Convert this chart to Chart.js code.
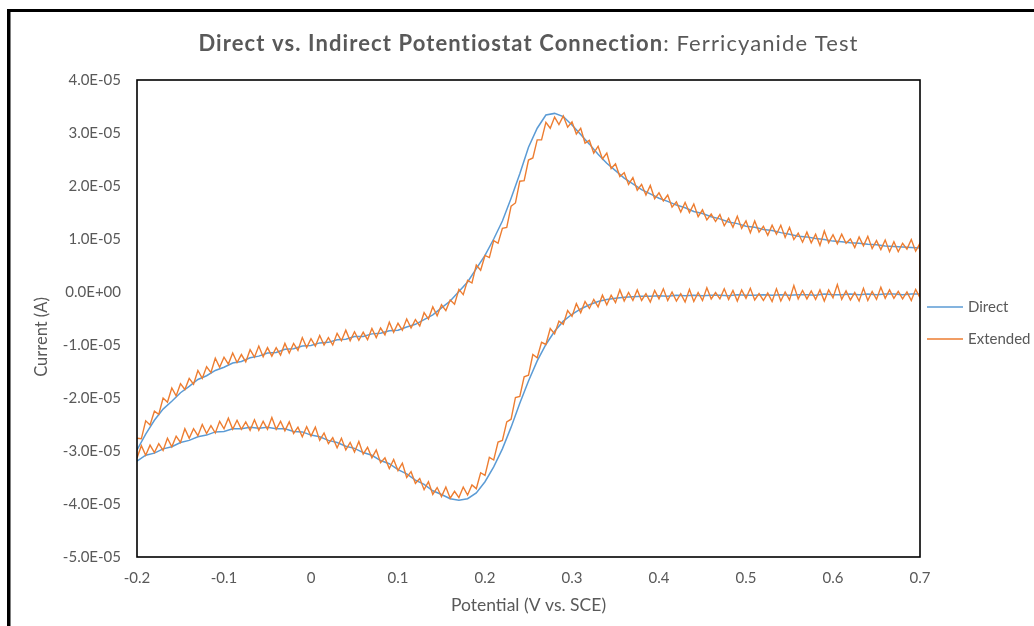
<!DOCTYPE html>
<html>
<head>
<meta charset="utf-8">
<title>Ferricyanide CV</title>
<script src="https://cdn.jsdelivr.net/npm/chart.js@4.4.1/dist/chart.umd.min.js"></script>
<style>
  html, body { margin: 0; padding: 0; background: #fff; }
  canvas { display: block; }
</style>
</head>
<body>
<canvas id="grafica" width="1034" height="626"></canvas>
<script>
// Potential grids (V vs. SCE). Direct run logged every 10 mV, extended cable every 5 mV.
const potentialDirect = [
  -0.20, -0.19, -0.18, -0.17, -0.16, -0.15, -0.14, -0.13, -0.12, -0.11,
  -0.10, -0.09, -0.08, -0.07, -0.06, -0.05, -0.04, -0.03, -0.02, -0.01,
  0.00, 0.01, 0.02, 0.03, 0.04, 0.05, 0.06, 0.07, 0.08, 0.09,
  0.10, 0.11, 0.12, 0.13, 0.14, 0.15, 0.16, 0.17, 0.18, 0.19,
  0.20, 0.21, 0.22, 0.23, 0.24, 0.25, 0.26, 0.27, 0.28, 0.29,
  0.30, 0.31, 0.32, 0.33, 0.34, 0.35, 0.36, 0.37, 0.38, 0.39,
  0.40, 0.41, 0.42, 0.43, 0.44, 0.45, 0.46, 0.47, 0.48, 0.49,
  0.50, 0.51, 0.52, 0.53, 0.54, 0.55, 0.56, 0.57, 0.58, 0.59,
  0.60, 0.61, 0.62, 0.63, 0.64, 0.65, 0.66, 0.67, 0.68, 0.69,
  0.70
];
const potentialExtended = [
  -0.200, -0.195, -0.190, -0.185, -0.180, -0.175, -0.170, -0.165, -0.160, -0.155,
  -0.150, -0.145, -0.140, -0.135, -0.130, -0.125, -0.120, -0.115, -0.110, -0.105,
  -0.100, -0.095, -0.090, -0.085, -0.080, -0.075, -0.070, -0.065, -0.060, -0.055,
  -0.050, -0.045, -0.040, -0.035, -0.030, -0.025, -0.020, -0.015, -0.010, -0.005,
  0.000, 0.005, 0.010, 0.015, 0.020, 0.025, 0.030, 0.035, 0.040, 0.045,
  0.050, 0.055, 0.060, 0.065, 0.070, 0.075, 0.080, 0.085, 0.090, 0.095,
  0.100, 0.105, 0.110, 0.115, 0.120, 0.125, 0.130, 0.135, 0.140, 0.145,
  0.150, 0.155, 0.160, 0.165, 0.170, 0.175, 0.180, 0.185, 0.190, 0.195,
  0.200, 0.205, 0.210, 0.215, 0.220, 0.225, 0.230, 0.235, 0.240, 0.245,
  0.250, 0.255, 0.260, 0.265, 0.270, 0.275, 0.280, 0.285, 0.290, 0.295,
  0.300, 0.305, 0.310, 0.315, 0.320, 0.325, 0.330, 0.335, 0.340, 0.345,
  0.350, 0.355, 0.360, 0.365, 0.370, 0.375, 0.380, 0.385, 0.390, 0.395,
  0.400, 0.405, 0.410, 0.415, 0.420, 0.425, 0.430, 0.435, 0.440, 0.445,
  0.450, 0.455, 0.460, 0.465, 0.470, 0.475, 0.480, 0.485, 0.490, 0.495,
  0.500, 0.505, 0.510, 0.515, 0.520, 0.525, 0.530, 0.535, 0.540, 0.545,
  0.550, 0.555, 0.560, 0.565, 0.570, 0.575, 0.580, 0.585, 0.590, 0.595,
  0.600, 0.605, 0.610, 0.615, 0.620, 0.625, 0.630, 0.635, 0.640, 0.645,
  0.650, 0.655, 0.660, 0.665, 0.670, 0.675, 0.680, 0.685, 0.690, 0.695,
  0.700
];

// Currents in microamps. "Forward" = anodic sweep (-0.2 -> 0.7 V),
// "Reverse" = cathodic sweep back, both listed by increasing potential.
const directForward = [
  -29.8, -26.8, -24.2, -22.1, -20.6, -19.0, -17.8, -16.5, -15.8, -14.8,
  -14.2, -13.4, -13.1, -12.4, -12.1, -11.5, -11.4, -10.8, -10.7, -10.2,
  -10.1, -9.6, -9.5, -9.0, -8.9, -8.4, -8.4, -7.9, -7.8, -7.3,
  -7.2, -6.6, -6.1, -5.2, -4.3, -3.0, -1.7, 0.1, 1.9, 4.4,
  6.9, 10.0, 13.4, 17.7, 22.3, 27.3, 30.9, 33.4, 33.7, 33.1,
  31.5, 29.7, 27.9, 26.0, 24.3, 22.9, 21.5, 20.4, 19.3, 18.5,
  17.7, 17.1, 16.4, 15.9, 15.2, 14.8, 14.2, 13.8, 13.2, 12.9,
  12.4, 12.2, 11.8, 11.6, 11.2, 10.9, 10.5, 10.4, 10.1, 9.9,
  9.6, 9.5, 9.3, 9.2, 9.0, 8.9, 8.7, 8.6, 8.5, 8.4,
  8.3
];
const directReverse = [
  -31.9, -30.8, -30.4, -29.6, -29.2, -28.4, -28.0, -27.3, -27.0, -26.4,
  -26.3, -25.8, -25.8, -25.5, -25.7, -25.5, -25.8, -25.8, -26.3, -26.4,
  -27.0, -27.3, -28.0, -28.4, -29.1, -29.5, -30.3, -30.8, -31.8, -32.4,
  -33.5, -34.3, -35.5, -36.3, -37.5, -38.2, -39.0, -39.3, -39.0, -37.9,
  -35.8, -33.0, -29.6, -25.5, -21.0, -16.8, -13.0, -9.9, -7.4, -5.5,
  -4.2, -3.2, -2.4, -1.8, -1.4, -1.2, -1.0, -0.9, -0.8, -0.8,
  -0.7, -0.8, -0.6, -0.7, -0.6, -0.7, -0.6, -0.6, -0.7, -0.5,
  -0.6, -0.6, -0.5, -0.6, -0.5, -0.6, -0.5, -0.5, -0.6, -0.4,
  -0.5, -0.5, -0.4, -0.5, -0.4, -0.5, -0.4, -0.4, -0.5, -0.4,
  -0.4
];
const extendedForward = [
  -27.6, -27.7, -24.3, -25.1, -22.5, -23.1, -20.0, -20.8, -18.1, -19.6,
  -17.3, -18.4, -16.3, -17.4, -14.8, -16.3, -14.1, -15.2, -12.5, -14.2,
  -12.3, -13.6, -11.5, -13.3, -11.8, -13.2, -10.9, -12.3, -10.2, -12.2,
  -10.5, -12.1, -10.5, -11.9, -9.7, -11.5, -9.7, -11.0, -8.6, -10.5,
  -8.8, -10.2, -8.2, -10.0, -8.6, -10.0, -7.8, -9.2, -7.2, -9.2,
  -7.5, -9.1, -7.6, -9.0, -6.9, -8.6, -6.8, -8.1, -5.7, -7.6,
  -5.9, -7.2, -5.1, -6.8, -5.2, -6.4, -3.9, -5.1, -2.8, -4.5,
  -2.4, -3.5, -1.5, -2.3, 0.5, -0.5, 2.2, 1.7, 5.1, 4.1,
  6.9, 6.5, 9.7, 9.2, 12.0, 12.2, 16.2, 16.8, 20.9, 21.0,
  24.9, 25.3, 28.7, 28.7, 32.0, 30.9, 33.0, 31.6, 33.2, 31.1,
  32.1, 29.8, 30.9, 28.1, 28.6, 26.2, 27.5, 25.1, 26.2, 23.3,
  24.2, 21.8, 22.5, 20.3, 21.6, 19.2, 20.3, 18.3, 20.1, 17.6,
  18.7, 17.2, 18.3, 16.0, 17.0, 15.1, 16.9, 15.0, 16.6, 14.2,
  15.5, 13.6, 14.7, 13.3, 14.6, 12.5, 13.9, 12.2, 14.3, 12.0,
  13.4, 11.2, 13.4, 11.3, 12.4, 10.7, 12.6, 10.9, 12.6, 10.3,
  12.2, 9.9, 11.1, 9.4, 11.3, 9.3, 10.9, 8.8, 11.5, 9.3,
  10.8, 9.1, 10.9, 9.2, 10.0, 8.4, 10.4, 8.7, 10.5, 8.2,
  9.7, 8.0, 9.8, 7.6, 9.5, 7.6, 9.2, 8.1, 9.9, 7.7,
  9.2
];
const extendedReverse = [
  -31.3, -29.0, -30.8, -28.9, -30.3, -28.6, -29.9, -27.6, -29.2, -27.2,
  -28.4, -25.8, -27.6, -25.8, -27.1, -25.0, -26.7, -25.2, -26.6, -24.4,
  -25.8, -23.8, -25.9, -24.2, -25.9, -24.5, -26.1, -24.1, -26.1, -24.4,
  -25.9, -23.7, -25.9, -24.4, -26.2, -24.5, -26.7, -25.5, -27.3, -25.4,
  -27.2, -25.5, -28.0, -26.6, -28.6, -27.5, -29.4, -27.6, -29.8, -28.4,
  -30.2, -28.2, -30.6, -29.3, -31.3, -29.8, -32.2, -31.3, -33.3, -31.6,
  -33.7, -32.3, -35.0, -33.9, -36.1, -35.2, -37.3, -35.8, -38.2, -36.9,
  -38.6, -36.8, -38.9, -37.6, -38.8, -36.8, -38.3, -36.4, -37.1, -34.1,
  -34.6, -31.2, -31.7, -28.3, -28.0, -24.5, -24.0, -19.9, -19.7, -16.0,
  -15.7, -11.8, -12.4, -9.5, -9.9, -6.9, -7.9, -5.5, -6.1, -3.5,
  -4.6, -2.2, -3.9, -1.8, -3.1, -1.4, -2.8, -0.6, -2.4, -0.6,
  -2.0, 0.4, -1.7, -0.1, -1.6, 0.4, -1.6, -0.3, -1.9, 0.3,
  -1.3, 0.6, -1.6, 0.0, -1.7, -0.3, -1.9, 0.5, -1.8, -0.1,
  -1.6, 0.8, -1.3, -0.1, -1.3, 0.6, -1.4, 0.3, -1.7, 0.4,
  -1.2, 0.7, -1.5, -0.3, -1.6, -0.2, -1.8, 0.6, -1.7, 0.0,
  -1.5, 1.2, -1.3, 0.3, -1.3, 0.2, -1.4, 0.4, -1.7, 0.4,
  -1.1, 1.4, -1.4, 0.2, -1.5, -0.1, -1.7, 0.7, -1.6, 0.1,
  -1.4, 0.9, -1.2, 0.4, -1.2, 0.1, -1.3, 0.0, -1.6, 0.5,
  -1.1
];

const xTicks = [-0.2, -0.1, 0, 0.1, 0.2, 0.3, 0.4, 0.5, 0.6, 0.7];
const yTicks = [-50, -40, -30, -20, -10, 0, 10, 20, 30, 40]; // µA

const textColor = '#595959';
const fontFamily = 'Lato, "Liberation Sans", sans-serif';

// one closed CV loop: forward sweep, then back down the same grid
function cycle(pot, fwd, rev) {
  const pts = [];
  for (let i = 0; i < pot.length; i++) pts.push({ x: pot[i], y: fwd[i] });
  for (let i = pot.length - 1; i >= 0; i--) pts.push({ x: pot[i], y: rev[i] });
  return pts;
}

// Excel style scientific label, e.g. 4.0E-05
function sci(amps) {
  const [m, e] = amps.toExponential(1).split('e');
  const sign = e[0] === '-' ? '-' : '+';
  return m + 'E' + sign + String(Math.abs(+e)).padStart(2, '0');
}

const decoraciones = {
  id: 'decoraciones',
  beforeDraw(chart) {
    const ctx = chart.ctx;
    ctx.save();
    ctx.fillStyle = '#fff';
    ctx.fillRect(0, 0, chart.width, chart.height);
    ctx.restore();
  },
  afterDraw(chart) {
    const ctx = chart.ctx;
    const a = chart.chartArea;
    ctx.save();

    // plot area box
    ctx.strokeStyle = '#000';
    ctx.lineWidth = 1.6;
    ctx.strokeRect(a.left, a.top, a.right - a.left, a.bottom - a.top);

    // outer frame (top and left edges)
    ctx.fillStyle = '#000';
    ctx.fillRect(7, 9, chart.width - 7, 3);
    ctx.fillRect(7, 9, 3.5, chart.height - 9);

    // title: bold part + regular part
    const bold = 'Direct vs. Indirect Potentiostat Connection';
    const normal = ': Ferricyanide Test';
    ctx.fillStyle = textColor;
    ctx.textBaseline = 'middle';
    ctx.textAlign = 'left';
    ctx.letterSpacing = '1.1px';
    ctx.font = 'bold 22px ' + fontFamily;
    const wb = ctx.measureText(bold).width;
    ctx.font = '22px ' + fontFamily;
    const wn = ctx.measureText(normal).width;
    const x = (a.left + a.right) / 2 - (wb + wn) / 2;
    ctx.font = 'bold 22px ' + fontFamily;
    ctx.fillText(bold, x, 44);
    ctx.font = '22px ' + fontFamily;
    ctx.fillText(normal, x + wb, 44);
    ctx.letterSpacing = '0px';

    // y axis title
    ctx.save();
    ctx.translate(42, 337);
    ctx.rotate(-Math.PI / 2);
    ctx.textAlign = 'center';
    ctx.font = '16.5px ' + fontFamily;
    ctx.fillText('Current (A)', 0, 0);
    ctx.restore();

    // legend at the right of the plot
    ctx.font = '15px ' + fontFamily;
    ctx.lineWidth = 1.5;
    chart.data.datasets.forEach((ds, i) => {
      const y = 307 + i * 32;
      ctx.strokeStyle = ds.borderColor;
      ctx.beginPath();
      ctx.moveTo(a.right + 7, y);
      ctx.lineTo(a.right + 43, y);
      ctx.stroke();
      ctx.fillStyle = textColor;
      ctx.fillText(ds.label, a.right + 48, y);
    });
    ctx.restore();
  }
};

new Chart(document.querySelector('#grafica'), {
  type: 'scatter',
  data: {
    datasets: [
      {
        label: 'Direct',
        data: cycle(potentialDirect, directForward, directReverse),
        borderColor: '#5B9BD5',
        borderWidth: 1.5,
        showLine: true,
        pointRadius: 0,
        order: 1
      },
      {
        label: 'Extended',
        data: cycle(potentialExtended, extendedForward, extendedReverse),
        borderColor: '#ED7D31',
        borderWidth: 1.4,
        showLine: true,
        pointRadius: 0,
        order: 0
      }
    ]
  },
  options: {
    responsive: false,
    animation: false,
    layout: { padding: { top: 80, right: 114, bottom: 0, left: 0 } },
    plugins: {
      legend: { display: false },
      tooltip: { enabled: false }
    },
    scales: {
      x: {
        type: 'linear',
        min: xTicks[0],
        max: xTicks[xTicks.length - 1],
        afterBuildTicks: s => { s.ticks = xTicks.map(v => ({ value: v })); },
        afterFit: s => { s.height = 69; },
        grid: { display: false, drawTicks: false },
        border: { display: false },
        ticks: {
          color: textColor,
          font: { family: fontFamily, size: 15 },
          padding: 12,
          maxRotation: 0,
          callback: v => String(Number(v.toFixed(1)))
        },
        title: {
          display: true,
          text: 'Potential (V vs. SCE)',
          color: textColor,
          font: { family: fontFamily, size: 17.5 },
          padding: { top: 0, bottom: 10 }
        }
      },
      y: {
        type: 'linear',
        min: yTicks[0],
        max: yTicks[yTicks.length - 1],
        afterBuildTicks: s => { s.ticks = yTicks.map(v => ({ value: v })); },
        afterFit: s => { s.width = 137; },
        grid: { display: false, drawTicks: false },
        border: { display: false },
        ticks: {
          color: textColor,
          font: { family: fontFamily, size: 15 },
          padding: 16,
          callback: v => sci(v * 1e-6)
        }
      }
    }
  },
  plugins: [decoraciones]
});
</script>
</body>
</html>
